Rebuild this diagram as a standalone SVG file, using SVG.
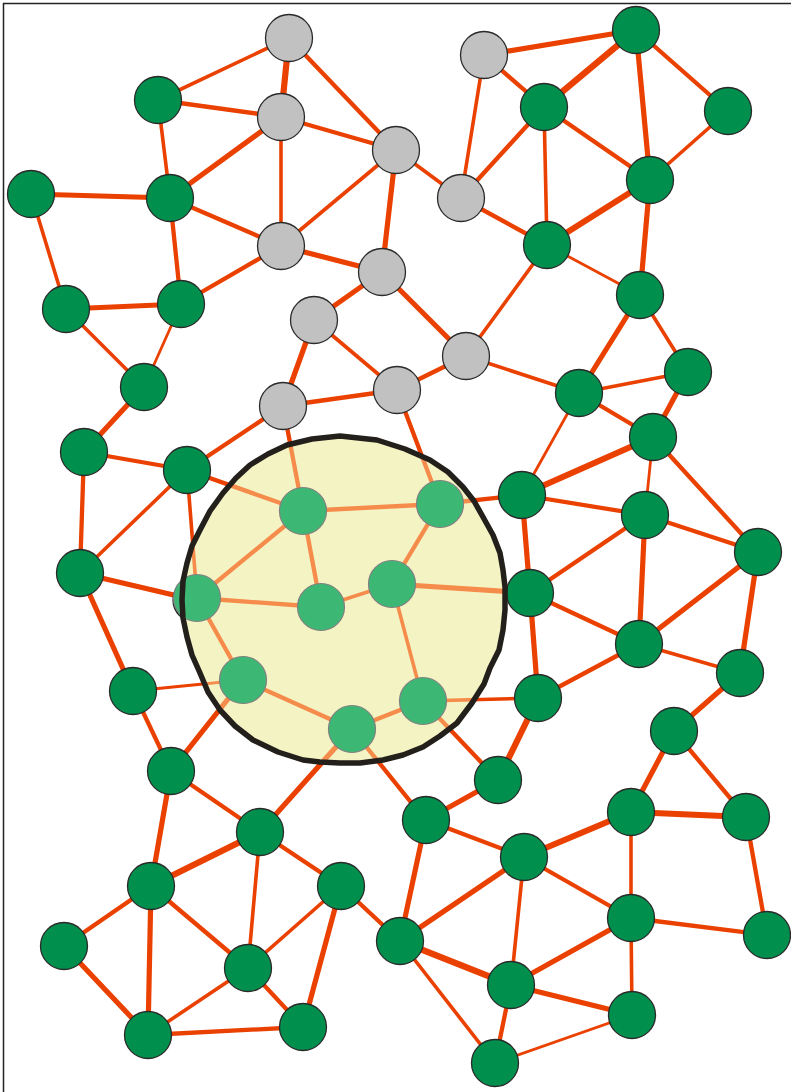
<svg xmlns="http://www.w3.org/2000/svg" xmlns:xlink="http://www.w3.org/1999/xlink" width="791" height="1092" viewBox="0 0 791 1092">
<style>
.a{stroke-width:2.8}.b{stroke-width:3.6}.c{stroke-width:4.3}.d{stroke-width:5.2}.e{stroke-width:6.2}
.n circle{fill:#008f4c;stroke:#2a2a2a;stroke-width:1.3}
.g circle{fill:#c1c1c1;stroke:#2a2a2a;stroke-width:1.3}
.l circle{fill:#3db874;stroke:#808080;stroke-width:1.2}
</style>
<defs>
<path id="blob" d="M340,436 L377,440 L405,449 L430,460 L448,472 L463,487 L474,501 L483,517 L493,535 L500,553 L503,570 L505,587 L505,610 L503,630 L499,650 L490,668 L484,684 L472,703 L457,723 L440,736 L423,747 L403,755 L383,760 L360,763 L340,763 L320,762 L303,760 L278,752 L253,740 L235,726 L220,710 L208,692 L200,673 L192,655 L187,637 L183,618 L182,600 L183,581 L187,563 L192,546 L200,530 L210,511 L223,493 L236,478 L250,465 L268,454 L287,445 L312,439 Z"/>
<clipPath id="cc"><use xlink:href="#blob"/></clipPath>
</defs>
<rect x="3.5" y="3.5" width="900" height="1200" fill="#fff" stroke="#222" stroke-width="1.5"/>
<g id="connectors" stroke="#ea4100" stroke-linecap="round" fill="none">
<g id="edgeset">
<line class="b" x1="289" y1="38" x2="158" y2="100"/>
<line class="e" x1="289" y1="38" x2="281" y2="117"/>
<line class="c" x1="289" y1="38" x2="396" y2="150"/>
<line class="c" x1="158" y1="100" x2="281" y2="117"/>
<line class="b" x1="158" y1="100" x2="170" y2="198"/>
<line class="d" x1="170" y1="198" x2="281" y2="117"/>
<line class="c" x1="281" y1="117" x2="396" y2="150"/>
<line class="b" x1="281" y1="117" x2="281" y2="246"/>
<line class="b" x1="396" y1="150" x2="281" y2="246"/>
<line class="b" x1="396" y1="150" x2="461" y2="198"/>
<line class="d" x1="396" y1="150" x2="382" y2="272"/>
<line class="b" x1="484" y1="55" x2="461" y2="198"/>
<line class="d" x1="484" y1="55" x2="636" y2="30"/>
<line class="c" x1="484" y1="55" x2="544" y2="107"/>
<line class="c" x1="461" y1="198" x2="544" y2="107"/>
<line class="c" x1="461" y1="198" x2="547" y2="245"/>
<line class="d" x1="31" y1="194" x2="170" y2="198"/>
<line class="c" x1="170" y1="198" x2="281" y2="246"/>
<line class="c" x1="170" y1="198" x2="181" y2="304"/>
<line class="b" x1="31" y1="194" x2="66" y2="309"/>
<line class="c" x1="281" y1="246" x2="181" y2="304"/>
<line class="d" x1="281" y1="246" x2="382" y2="272"/>
<line class="d" x1="382" y1="272" x2="314" y2="320"/>
<line class="d" x1="382" y1="272" x2="466" y2="356"/>
<line class="b" x1="314" y1="320" x2="397" y2="390"/>
<line class="d" x1="314" y1="320" x2="283" y2="406"/>
<line class="c" x1="466" y1="356" x2="397" y2="390"/>
<line class="b" x1="466" y1="356" x2="547" y2="245"/>
<line class="b" x1="466" y1="356" x2="579" y2="393"/>
<line class="c" x1="397" y1="390" x2="283" y2="406"/>
<line class="c" x1="397" y1="390" x2="440" y2="504"/>
<line class="c" x1="283" y1="406" x2="187" y2="470"/>
<line class="c" x1="283" y1="406" x2="303" y2="511"/>
<line class="d" x1="66" y1="309" x2="181" y2="304"/>
<line class="b" x1="66" y1="309" x2="144" y2="387"/>
<line class="a" x1="181" y1="304" x2="144" y2="387"/>
<line class="d" x1="144" y1="387" x2="84" y2="452"/>
<line class="c" x1="84" y1="452" x2="187" y2="470"/>
<line class="c" x1="84" y1="452" x2="80" y2="573"/>
<line class="b" x1="187" y1="470" x2="80" y2="573"/>
<line class="c" x1="187" y1="470" x2="303" y2="511"/>
<line class="b" x1="187" y1="470" x2="197" y2="598"/>
<line class="d" x1="80" y1="573" x2="195" y2="600"/>
<line class="d" x1="80" y1="573" x2="133" y2="691"/>
<line class="c" x1="303" y1="511" x2="440" y2="504"/>
<line class="c" x1="303" y1="511" x2="321" y2="607"/>
<line class="c" x1="303" y1="511" x2="197" y2="598"/>
<line class="c" x1="440" y1="504" x2="392" y2="584"/>
<line class="c" x1="440" y1="504" x2="522" y2="495"/>
<line class="b" x1="392" y1="584" x2="321" y2="607"/>
<line class="d" x1="392" y1="584" x2="530" y2="593"/>
<line class="b" x1="392" y1="584" x2="423" y2="701"/>
<line class="c" x1="197" y1="598" x2="321" y2="607"/>
<line class="c" x1="197" y1="598" x2="243" y2="680"/>
<line class="a" x1="243" y1="680" x2="133" y2="691"/>
<line class="c" x1="243" y1="680" x2="352" y2="729"/>
<line class="d" x1="243" y1="680" x2="171" y2="771"/>
<line class="c" x1="352" y1="729" x2="423" y2="701"/>
<line class="d" x1="352" y1="729" x2="260" y2="832"/>
<line class="c" x1="352" y1="729" x2="426" y2="821"/>
<line class="b" x1="423" y1="701" x2="538" y2="698"/>
<line class="c" x1="423" y1="701" x2="498" y2="780"/>
<line class="e" x1="636" y1="30" x2="544" y2="107"/>
<line class="c" x1="636" y1="30" x2="728" y2="111"/>
<line class="d" x1="636" y1="30" x2="650" y2="180"/>
<line class="c" x1="544" y1="107" x2="650" y2="180"/>
<line class="b" x1="544" y1="107" x2="547" y2="245"/>
<line class="b" x1="728" y1="111" x2="650" y2="180"/>
<line class="e" x1="650" y1="180" x2="547" y2="245"/>
<line class="d" x1="650" y1="180" x2="640" y2="295"/>
<line class="a" x1="547" y1="245" x2="640" y2="295"/>
<line class="d" x1="640" y1="295" x2="579" y2="393"/>
<line class="b" x1="640" y1="295" x2="688" y2="372"/>
<line class="b" x1="688" y1="372" x2="579" y2="393"/>
<line class="d" x1="688" y1="372" x2="653" y2="437"/>
<line class="c" x1="579" y1="393" x2="653" y2="437"/>
<line class="a" x1="579" y1="393" x2="522" y2="495"/>
<line class="e" x1="653" y1="437" x2="522" y2="495"/>
<line class="a" x1="653" y1="437" x2="645" y2="515"/>
<line class="c" x1="653" y1="437" x2="758" y2="552"/>
<line class="c" x1="522" y1="495" x2="645" y2="515"/>
<line class="d" x1="522" y1="495" x2="530" y2="593"/>
<line class="c" x1="645" y1="515" x2="758" y2="552"/>
<line class="c" x1="645" y1="515" x2="530" y2="593"/>
<line class="d" x1="645" y1="515" x2="639" y2="644"/>
<line class="d" x1="758" y1="552" x2="639" y2="644"/>
<line class="d" x1="758" y1="552" x2="740" y2="673"/>
<line class="c" x1="530" y1="593" x2="639" y2="644"/>
<line class="d" x1="530" y1="593" x2="538" y2="698"/>
<line class="b" x1="639" y1="644" x2="740" y2="673"/>
<line class="c" x1="639" y1="644" x2="538" y2="698"/>
<line class="d" x1="740" y1="673" x2="674" y2="731"/>
<line class="e" x1="538" y1="698" x2="498" y2="780"/>
<line class="d" x1="674" y1="731" x2="631" y2="812"/>
<line class="c" x1="674" y1="731" x2="746" y2="817"/>
<line class="d" x1="498" y1="780" x2="426" y2="820"/>
<line class="c" x1="426" y1="820" x2="524" y2="857"/>
<line class="d" x1="426" y1="820" x2="400" y2="941"/>
<line class="e" x1="631" y1="812" x2="746" y2="817"/>
<line class="e" x1="631" y1="812" x2="524" y2="857"/>
<line class="b" x1="631" y1="812" x2="631" y2="918"/>
<line class="c" x1="746" y1="817" x2="767" y2="935"/>
<line class="c" x1="524" y1="857" x2="631" y2="918"/>
<line class="d" x1="524" y1="857" x2="400" y2="941"/>
<line class="b" x1="524" y1="857" x2="511" y2="985"/>
<line class="c" x1="631" y1="918" x2="767" y2="935"/>
<line class="d" x1="631" y1="918" x2="511" y2="985"/>
<line class="b" x1="631" y1="918" x2="632" y2="1015"/>
<line class="e" x1="400" y1="941" x2="511" y2="985"/>
<line class="b" x1="400" y1="941" x2="495" y2="1063"/>
<line class="d" x1="511" y1="985" x2="632" y2="1015"/>
<line class="c" x1="511" y1="985" x2="495" y2="1063"/>
<line class="a" x1="632" y1="1015" x2="495" y2="1063"/>
<line class="c" x1="133" y1="691" x2="171" y2="771"/>
<line class="c" x1="171" y1="771" x2="260" y2="832"/>
<line class="d" x1="171" y1="771" x2="151" y2="886"/>
<line class="e" x1="260" y1="832" x2="151" y2="886"/>
<line class="c" x1="260" y1="832" x2="341" y2="886"/>
<line class="b" x1="260" y1="832" x2="248" y2="968"/>
<line class="c" x1="151" y1="886" x2="64" y2="946"/>
<line class="c" x1="151" y1="886" x2="248" y2="968"/>
<line class="d" x1="151" y1="886" x2="148" y2="1035"/>
<line class="b" x1="341" y1="886" x2="248" y2="968"/>
<line class="d" x1="341" y1="886" x2="303" y2="1027"/>
<line class="c" x1="341" y1="886" x2="400" y2="941"/>
<line class="d" x1="64" y1="946" x2="148" y2="1035"/>
<line class="b" x1="248" y1="968" x2="148" y2="1035"/>
<line class="c" x1="248" y1="968" x2="303" y2="1027"/>
<line class="c" x1="148" y1="1035" x2="303" y2="1027"/>
</g>
</g>
<g id="nodes-gray" class="g">
<g id="G1"><circle cx="289" cy="38" r="23.5"/></g>
<g id="G2"><circle cx="281" cy="117" r="23.5"/></g>
<g id="G3"><circle cx="396" cy="150" r="23.5"/></g>
<g id="G4"><circle cx="461" cy="198" r="23.5"/></g>
<g id="G5"><circle cx="484" cy="55" r="23.5"/></g>
<g id="G6"><circle cx="281" cy="246" r="23.5"/></g>
<g id="G7"><circle cx="382" cy="272" r="23.5"/></g>
<g id="G8"><circle cx="314" cy="320" r="23.5"/></g>
<g id="G9"><circle cx="466" cy="356" r="23.5"/></g>
<g id="G10"><circle cx="397" cy="390" r="23.5"/></g>
<g id="G11"><circle cx="283" cy="406" r="23.5"/></g>
</g>
<g id="nodes-green" class="n">
<g id="A1"><circle cx="158" cy="100" r="23.5"/></g>
<g id="A2"><circle cx="31" cy="194" r="23.5"/></g>
<g id="A3"><circle cx="170" cy="198" r="23.5"/></g>
<g id="A4"><circle cx="66" cy="309" r="23.5"/></g>
<g id="A5"><circle cx="181" cy="304" r="23.5"/></g>
<g id="A6"><circle cx="144" cy="387" r="23.5"/></g>
<g id="A7"><circle cx="84" cy="452" r="23.5"/></g>
<g id="A8"><circle cx="187" cy="470" r="23.5"/></g>
<g id="A9"><circle cx="80" cy="573" r="23.5"/></g>
<g id="A10"><circle cx="195" cy="600" r="22"/></g>
<g id="B1"><circle cx="636" cy="30" r="23.5"/></g>
<g id="B2"><circle cx="544" cy="107" r="23.5"/></g>
<g id="B3"><circle cx="728" cy="111" r="23.5"/></g>
<g id="B4"><circle cx="650" cy="180" r="23.5"/></g>
<g id="B5"><circle cx="547" cy="245" r="23.5"/></g>
<g id="B6"><circle cx="640" cy="295" r="23.5"/></g>
<g id="B7"><circle cx="688" cy="372" r="23.5"/></g>
<g id="B8"><circle cx="579" cy="393" r="23.5"/></g>
<g id="B9"><circle cx="653" cy="437" r="23.5"/></g>
<g id="B10"><circle cx="522" cy="495" r="23.5"/></g>
<g id="B11"><circle cx="645" cy="515" r="23.5"/></g>
<g id="B12"><circle cx="758" cy="552" r="23.5"/></g>
<g id="B13"><circle cx="530" cy="593" r="23.5"/></g>
<g id="B14"><circle cx="639" cy="644" r="23.5"/></g>
<g id="B15"><circle cx="740" cy="673" r="23.5"/></g>
<g id="B16"><circle cx="538" cy="698" r="23.5"/></g>
<g id="B17"><circle cx="674" cy="731" r="23.5"/></g>
<g id="B18"><circle cx="498" cy="780" r="23.5"/></g>
<g id="B19"><circle cx="426" cy="820" r="23.5"/></g>
<g id="B20"><circle cx="631" cy="812" r="23.5"/></g>
<g id="B21"><circle cx="746" cy="817" r="23.5"/></g>
<g id="B22"><circle cx="524" cy="857" r="23.5"/></g>
<g id="B23"><circle cx="631" cy="918" r="23.5"/></g>
<g id="B24"><circle cx="767" cy="935" r="23.5"/></g>
<g id="B25"><circle cx="400" cy="941" r="23.5"/></g>
<g id="B26"><circle cx="511" cy="985" r="23.5"/></g>
<g id="B27"><circle cx="632" cy="1015" r="23.5"/></g>
<g id="B28"><circle cx="495" cy="1063" r="23.5"/></g>
<g id="C1"><circle cx="133" cy="691" r="23.5"/></g>
<g id="C2"><circle cx="171" cy="771" r="23.5"/></g>
<g id="C3"><circle cx="260" cy="832" r="23.5"/></g>
<g id="C4"><circle cx="151" cy="886" r="23.5"/></g>
<g id="C5"><circle cx="341" cy="886" r="23.5"/></g>
<g id="C6"><circle cx="64" cy="946" r="23.5"/></g>
<g id="C7"><circle cx="248" cy="968" r="23.5"/></g>
<g id="C8"><circle cx="148" cy="1035" r="23.5"/></g>
<g id="C9"><circle cx="303" cy="1027" r="23.5"/></g>
</g>
<g id="region">
<use xlink:href="#blob" fill="#f3f3c4"/>
<use xlink:href="#edgeset" stroke="#f68c4b" stroke-linecap="round" fill="none" clip-path="url(#cc)"/>
</g>
<g id="nodes-inner" class="l">
<g id="L1"><circle cx="303" cy="511" r="23.5"/></g>
<g id="L2"><circle cx="440" cy="504" r="23.5"/></g>
<g id="L3"><circle cx="392" cy="584" r="23.5"/></g>
<g id="L4"><circle cx="321" cy="607" r="23.5"/></g>
<g id="L5"><circle cx="197" cy="598" r="23.5"/></g>
<g id="L6"><circle cx="243" cy="680" r="23.5"/></g>
<g id="L7"><circle cx="423" cy="701" r="23.5"/></g>
<g id="L8"><circle cx="352" cy="729" r="23.5"/></g>
</g>
<use id="region-outline" xlink:href="#blob" fill="none" stroke="#231f1b" stroke-width="5.5" stroke-linejoin="round"/>
</svg>
